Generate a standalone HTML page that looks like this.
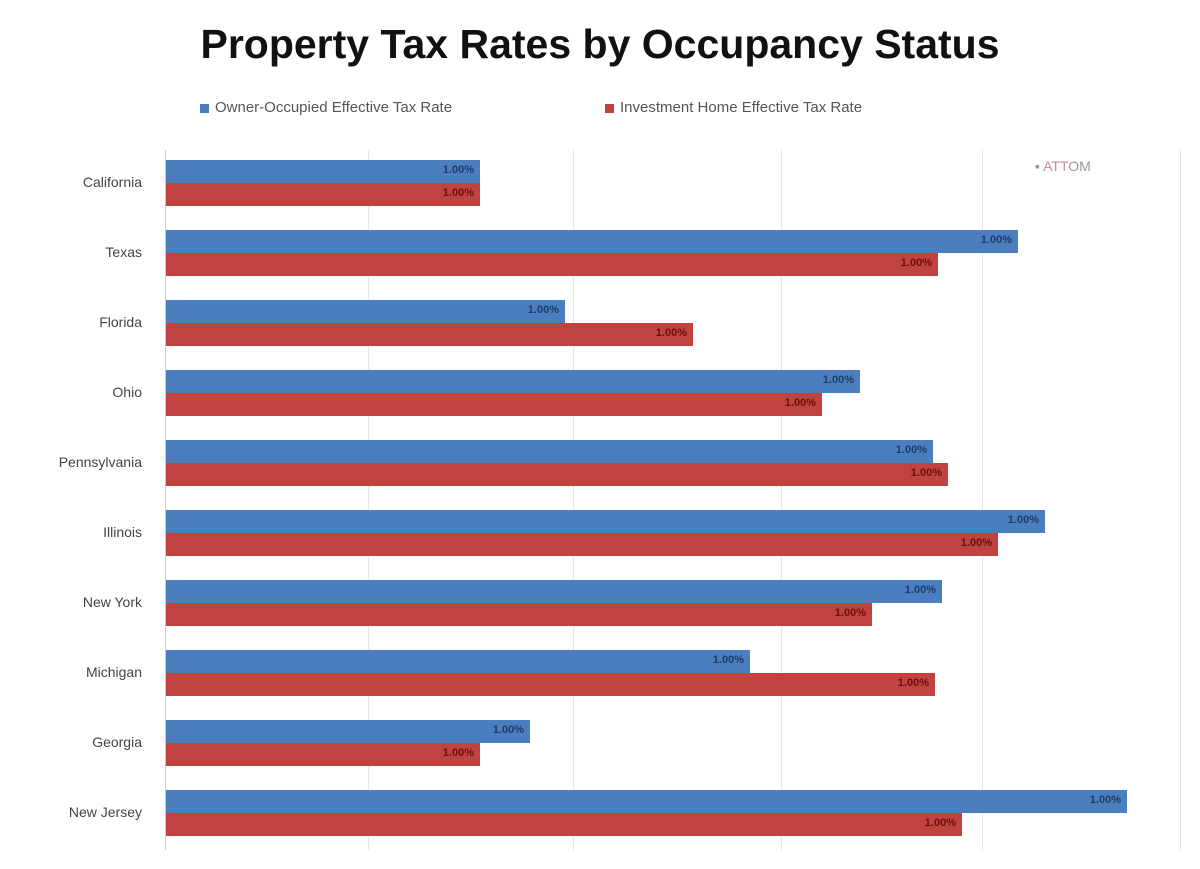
<!DOCTYPE html>
<html><head><style>
body{margin:0;background:#fff;}
#c{position:relative;width:1200px;height:869px;background:#fff;font-family:"Liberation Sans",sans-serif;overflow:hidden;}
.t{position:absolute;left:0;width:1200px;top:21px;text-align:center;font-size:41px;font-weight:bold;color:#111;}
.lg{position:absolute;top:99px;font-size:15px;color:#555;}
.sq{display:inline-block;width:9px;height:9px;margin-right:6px;vertical-align:middle;}
.g{position:absolute;top:150px;height:700px;width:1px;background:#e6e6e6;}
.b{position:absolute;left:166px;height:23px;}
.bl{background:#4a7ebf;}
.rd{background:#c0433f;}
.lab{position:absolute;right:6px;top:4px;font-size:11px;font-weight:bold;}
.bl .lab{color:#1f3b66;}
.rd .lab{color:#6a1010;}
.cat{position:absolute;right:1058px;font-size:14px;color:#444;text-align:right;}
</style></head><body><div id="c">
<div class="t">Property Tax Rates by Occupancy Status</div>
<div class="lg" style="left:200px"><span class="sq" style="background:#4a7ebf"></span>Owner-Occupied Effective Tax Rate</div>
<div class="lg" style="left:605px"><span class="sq" style="background:#c0433f"></span>Investment Home Effective Tax Rate</div>
<div style="position:absolute;left:165px;top:150px;width:1px;height:700px;background:#ccc"></div>
<div class="g" style="left:368px"></div><div class="g" style="left:573px"></div><div class="g" style="left:781px"></div><div class="g" style="left:982px"></div><div class="g" style="left:1180px"></div>
<div style="position:absolute;left:1035px;top:158px;font-size:14px;color:#999">▪ <span style="color:#d88">ATT</span>OM</div>
<div id="bars"></div>
</div>
<script>
var d=[["California",480,480],["Texas",1018,938],["Florida",565,693],["Ohio",860,822],["Pennsylvania",933,948],["Illinois",1045,998],["New York",942,872],["Michigan",750,935],["Georgia",530,480],["New Jersey",1127,962]];
var h="";
d.forEach(function(r,i){var y=160+i*70;
h+='<div class="cat" style="top:'+(y+14)+'px">'+r[0]+'</div>';
h+='<div class="b bl" style="top:'+y+'px;width:'+(r[1]-166)+'px"><span class="lab">1.00%</span></div>';
h+='<div class="b rd" style="top:'+(y+23)+'px;width:'+(r[2]-166)+'px"><span class="lab">1.00%</span></div>';});
document.getElementById("bars").innerHTML=h;
</script>
</body></html>
